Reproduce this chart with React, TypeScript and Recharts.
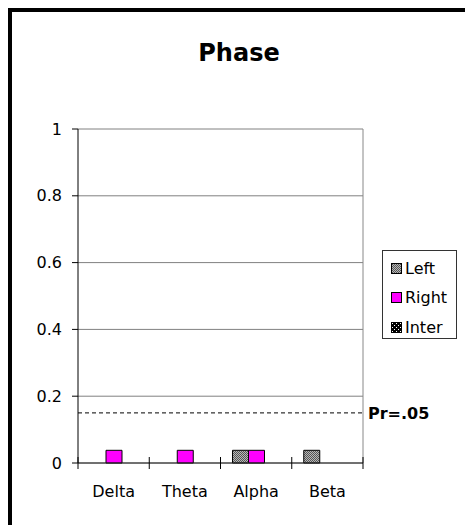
import { BarChart, Bar, XAxis, YAxis, CartesianGrid, ReferenceLine } from 'recharts';

const categories = ['Delta', 'Theta', 'Alpha', 'Beta'];
const leftValues = [null, null, 0.038, 0.038];
const rightValues = [0.038, 0.038, 0.038, null];
const interValues = [null, null, null, null];
const yTicks = [0, 0.2, 0.4, 0.6, 0.8, 1];
const thresholdValue = 0.15;
const thresholdLabel = 'Pr=.05';

const series = [
  { key: 'left', name: 'Left', fill: 'url(#patLeft)', legendFill: 'url(#legLeft)' },
  { key: 'right', name: 'Right', fill: '#ff00ff', legendFill: '#ff00ff' },
  { key: 'inter', name: 'Inter', fill: 'url(#patInter)', legendFill: 'url(#legInter)' },
];

const data = categories.map((name, i) => ({
  name,
  left: leftValues[i],
  right: rightValues[i],
  inter: interValues[i],
}));

const FONT = '"DejaVu Sans", Verdana, sans-serif';
const CHART_W = 454;
const CHART_H = 520;
const MARGIN = { top: 117, right: 103, bottom: 39, left: 6 };
const BAND = (CHART_W - MARGIN.left - 60 - MARGIN.right) / categories.length;

function Patterns({ prefix }: { prefix: string }) {
  return (
    <defs>
      <pattern id={`${prefix}Left`} width="2" height="2" patternUnits="userSpaceOnUse">
        <rect width="2" height="2" fill="#b8b8b8" />
        <rect width="1" height="1" fill="#555" />
        <rect x="1" y="1" width="1" height="1" fill="#555" />
      </pattern>
      <pattern id={`${prefix}Inter`} width="4" height="4" patternUnits="userSpaceOnUse">
        <rect width="4" height="4" fill="#000" />
        <rect x="1" y="1" width="1" height="1" fill="#fff" />
        <rect x="3" y="3" width="1" height="1" fill="#fff" />
      </pattern>
    </defs>
  );
}

function XTick(props: any) {
  const { x, y, payload, index } = props;
  const half = BAND / 2;
  return (
    <g>
      <line x1={x - half} x2={x - half} y1={y - 6} y2={y + 6} stroke="#000" />
      {index === categories.length - 1 && (
        <line x1={x + half} x2={x + half} y1={y - 6} y2={y + 6} stroke="#000" />
      )}
      <text x={x} y={y + 23} dy="0.71em" textAnchor="middle" fontSize={16} fontFamily={FONT} fill="#000">
        {payload.value}
      </text>
    </g>
  );
}

function LegendBox() {
  return (
    <div
      style={{
        position: 'absolute',
        left: 370,
        top: 238,
        width: 73,
        height: 87,
        border: '1px solid #333',
        background: '#fff',
        fontFamily: FONT,
        fontSize: 16,
        boxSizing: 'content-box',
      }}
    >
      <svg width={0} height={0} style={{ position: 'absolute' }}>
        <Patterns prefix="leg" />
      </svg>
      {series.map((s, i) => (
        <div
          key={s.key}
          style={{ position: 'absolute', left: 8, top: 7 + i * 29.5, height: 20, display: 'flex', alignItems: 'center' }}
        >
          <svg width={11} height={11} style={{ marginRight: 3 }}>
            <rect x={0.5} y={0.5} width={10} height={10} fill={s.legendFill} stroke="#000" />
          </svg>
          <span>{s.name}</span>
        </div>
      ))}
    </div>
  );
}

export default function App() {
  return (
    <div
      style={{
        position: 'relative',
        width: CHART_W,
        height: CHART_H,
        border: '4px solid #000',
        background: '#fff',
      }}
    >
      <div
        style={{
          position: 'absolute',
          left: 0,
          width: CHART_W,
          top: 27,
          textAlign: 'center',
          fontFamily: FONT,
          fontWeight: 'bold',
          fontSize: 24,
        }}
      >
        Phase
      </div>
      <BarChart width={CHART_W} height={CHART_H} data={data} margin={MARGIN} barGap={0} barSize={16}>
        <Patterns prefix="pat" />
        <CartesianGrid vertical={false} stroke="#808080" />
        <CartesianGrid
          horizontal={false}
          stroke="#888"
          verticalCoordinatesGenerator={({ offset }: any) => [offset.left + offset.width]}
        />
        <XAxis
          dataKey="name"
          tick={<XTick />}
          tickLine={false}
          tickSize={0}
          tickMargin={0}
          axisLine={{ stroke: '#222' }}
          height={30}
          interval={0}
        />
        <YAxis
          domain={[0, 1]}
          ticks={yTicks}
          width={60}
          tickSize={6}
          tickMargin={10}
          tickLine={{ stroke: '#000' }}
          axisLine={{ stroke: '#000' }}
          tick={{ fontSize: 16, fontFamily: FONT, fill: '#000' }}
        />
        <ReferenceLine
          y={thresholdValue}
          stroke="#000"
          strokeDasharray="4 3"
          label={{ value: thresholdLabel, position: 'right', fontSize: 16, fontWeight: 'bold', fontFamily: FONT, fill: '#000' }}
        />
        {series.map((s) => (
          <Bar key={s.key} dataKey={s.key} name={s.name} fill={s.fill} stroke="#000" strokeWidth={1} isAnimationActive={false} />
        ))}
      </BarChart>
      <LegendBox />
    </div>
  );
}
